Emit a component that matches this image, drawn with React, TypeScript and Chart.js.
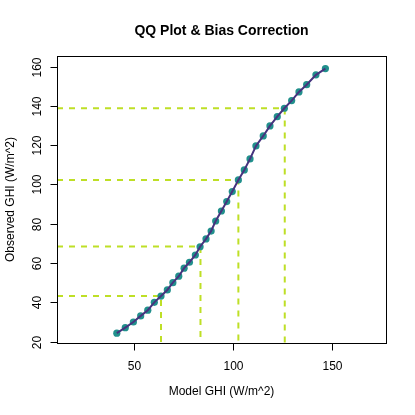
import React, { useEffect, useRef } from "react";
import { Chart, registerables } from "chart.js";

Chart.register(...registerables);

const modelQuantiles = [41.1, 45.4, 49.5, 53.2, 56.8, 60.1, 63.5, 66.7, 69.5, 72.5, 75.2, 77.9, 80.9, 83.3, 86.3, 88.9, 91.2, 94.1, 96.8, 99.6, 102.7, 105.7, 108.6, 111.6, 115.3, 118.7, 122.4, 126.0, 129.7, 133.4, 137.3, 142.0, 146.8];
const observedQuantiles = [24.3, 27.1, 30.0, 33.1, 36.0, 40.0, 43.2, 46.3, 50.0, 53.3, 57.4, 60.4, 64.1, 68.3, 72.3, 76.3, 81.4, 86.5, 91.3, 96.4, 102.3, 107.4, 113.0, 119.6, 124.7, 129.8, 134.5, 138.8, 142.7, 147.1, 150.8, 155.8, 159.0];
const markModel = [63.5, 83.5, 102.7, 126.2];
const markObserved = [43.2, 68.4, 102.3, 138.8];
const xTicks = [50, 100, 150];
const yTicks = [20, 40, 60, 80, 100, 120, 140, 160];
const X_MIN = 10.8, X_MAX = 177.5, Y_MIN = 19.3, Y_MAX = 165.4;

const TITLE = "QQ Plot & Bias Correction";
const X_TITLE = "Model GHI (W/m^2)";
const Y_TITLE = "Observed GHI (W/m^2)";
const FONT = '"Liberation Sans", Arial, Helvetica, sans-serif';

const axesPlugin = {
  id: "rAxes",
  afterDraw(chart: any) {
    const ctx = chart.ctx;
    const xs = chart.scales.x;
    const ys = chart.scales.y;
    const a = chart.chartArea;
    ctx.save();
    ctx.strokeStyle = "#000";
    ctx.lineWidth = 1;
    // box
    ctx.strokeRect(Math.round(a.left) + 0.5, Math.round(a.top) + 0.5, Math.round(a.right - a.left), Math.round(a.bottom - a.top));
    // x ticks
    ctx.fillStyle = "#000";
    ctx.font = `12px ${FONT}`;
    ctx.textAlign = "center";
    ctx.textBaseline = "middle";
    const by = Math.round(a.bottom) + 0.5;
    xTicks.forEach((v) => {
      const px = Math.round(xs.getPixelForValue(v)) + 0.5;
      ctx.beginPath();
      ctx.moveTo(px, by);
      ctx.lineTo(px, by + 7);
      ctx.stroke();
      ctx.fillText(String(v), px, by + 23);
    });
    // y ticks
    const lx = Math.round(a.left) + 0.5;
    yTicks.forEach((v) => {
      const py = Math.round(ys.getPixelForValue(v)) + 0.5;
      ctx.beginPath();
      ctx.moveTo(lx, py);
      ctx.lineTo(lx - 7, py);
      ctx.stroke();
      ctx.save();
      ctx.translate(lx - 20, py);
      ctx.rotate(-Math.PI / 2);
      ctx.fillText(String(v), 0, 0);
      ctx.restore();
    });
    // axis titles
    const cx = (a.left + a.right) / 2;
    const cy = (a.top + a.bottom) / 2;
    ctx.fillText(X_TITLE, cx, 392);
    ctx.save();
    ctx.translate(11, cy);
    ctx.rotate(-Math.PI / 2);
    ctx.fillText(Y_TITLE, 0, 0);
    ctx.restore();
    // main title
    ctx.font = `bold 14px ${FONT}`;
    ctx.fillText(TITLE, cx, 31);
    ctx.restore();
  },
};

export default function App() {
  const ref = useRef<HTMLCanvasElement | null>(null);
  useEffect(() => {
    if (!ref.current) return;
    const qq = modelQuantiles.map((x, i) => ({ x, y: observedQuantiles[i] }));
    const dashed = markModel.map((mx, i) => ({
      type: "line" as const,
      data: [
        { x: X_MIN, y: markObserved[i] },
        { x: mx, y: markObserved[i] },
        { x: mx, y: Y_MIN },
      ],
      borderColor: "#BEDF26",
      borderWidth: 2,
      borderDash: [6, 6],
      pointRadius: 0,
      showLine: true,
      fill: false,
      order: 3,
    }));
    const chart = new Chart(ref.current, {
      type: "scatter",
      data: {
        datasets: [
          {
            type: "line",
            data: qq,
            borderColor: "#46337E",
            borderWidth: 2,
            pointRadius: 0,
            showLine: true,
            fill: false,
            order: 0,
          } as any,
          {
            type: "scatter",
            data: qq,
            backgroundColor: "#21908C",
            borderColor: "#21908C",
            pointRadius: 3.6,
            borderWidth: 0,
            order: 1,
          } as any,
          ...(dashed as any[]),
        ],
      },
      options: {
        animation: false,
        responsive: false,
        maintainAspectRatio: false,
        devicePixelRatio: 1,
        layout: { padding: { left: 57, top: 56, right: 29, bottom: 72 } },
        plugins: { legend: { display: false }, tooltip: { enabled: false }, title: { display: false } },
        scales: {
          x: { type: "linear", min: X_MIN, max: X_MAX, display: false },
          y: { type: "linear", min: Y_MIN, max: Y_MAX, display: false },
        },
      },
      plugins: [axesPlugin],
    });
    return () => chart.destroy();
  }, []);
  return (
    <div style={{ position: "fixed", left: 0, top: 0, width: 415, height: 415, background: "#fff" }}>
      <canvas ref={ref} width={415} height={415} style={{ width: 415, height: 415, display: "block" }} />
    </div>
  );
}
